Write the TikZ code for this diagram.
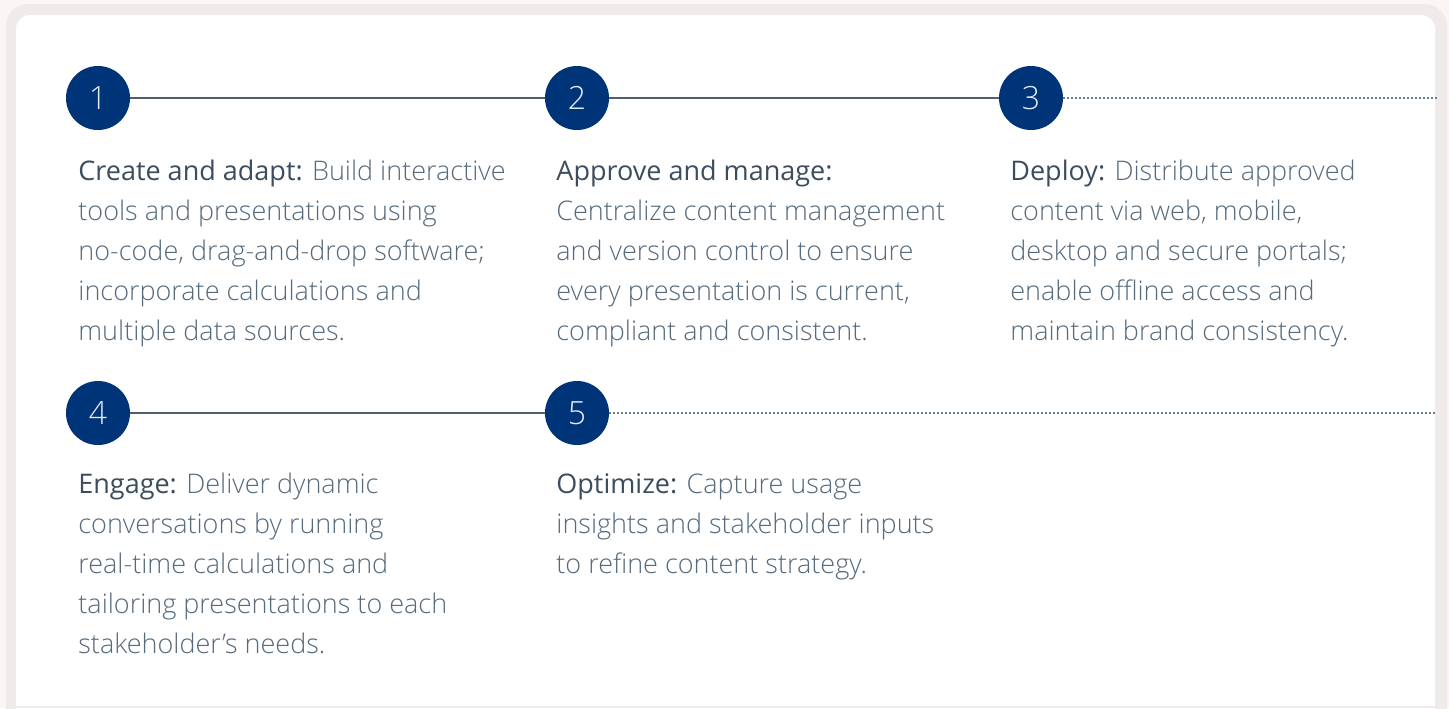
\documentclass[tikz,border=0pt]{standalone}
\usepackage{fontspec}
\newfontfamily\headfont{Open Sans}
\newfontfamily\bodyfont{Open Sans Light}
\definecolor{pagebg}{HTML}{F9F6F5}
\definecolor{bandgrey}{HTML}{EFEBEA}
\definecolor{navy}{HTML}{003478}
\definecolor{numtxt}{HTML}{E4EAF3}
\definecolor{linecol}{HTML}{4D6070}
\definecolor{dotcol}{HTML}{6A7D8E}
\definecolor{bodycol}{HTML}{566B7D}
\definecolor{headcol}{HTML}{3B4D5E}
\tikzset{
  numcircle/.style={circle, fill=navy, minimum size=64*0.5pt, inner sep=0pt,
    text=numtxt, font=\bodyfont\fontsize{16pt}{18pt}\selectfont},
  solidlink/.style={draw=linecol, line width=0.7pt},
  dotlink/.style={draw=dotcol, line width=0.6pt, dash pattern=on 0.6pt off 1.4pt},
  stepdesc/.style={anchor=base west, inner sep=0pt, align=left, text=bodycol,
    font=\bodyfont\fontsize{13.5pt}{20pt}\selectfont},
}
\newcommand{\hd}[1]{{\headfont\color{headcol}#1}}
\begin{document}
\begin{tikzpicture}[x=0.5pt, y=-0.5pt]
\useasboundingbox (0,0) rectangle (1449,708);
\fill[pagebg] (0,0) rectangle (1449,708);
\fill[bandgrey, rounded corners=22*0.5pt] (6,4) rectangle (1447,760);
\fill[white, rounded corners=14*0.5pt] (16,15) rectangle (1435,740);
\fill[bandgrey] (6,706) rectangle (1447,708);

% circles
\node[numcircle] (c1) at (98,98) {1};
\node[numcircle] (c2) at (577,98) {2};
\node[numcircle] (c3) at (1031,98) {3};
\node[numcircle] (c4) at (98,413) {4};
\node[numcircle] (c5) at (577,413) {5};
\coordinate (e3) at (1437,98);
\coordinate (e5) at (1437,413);

% connectors
\draw[solidlink] (c1) -- (c2);
\draw[solidlink] (c2) -- (c3);
\draw[dotlink] (c3) -- (e3);
\draw[solidlink] (c4) -- (c5);
\draw[dotlink] (c5) -- (e5);

% texts (anchored at the baseline of their last line)
\node[stepdesc] (t1) at (78,340) {\hd{Create and adapt:} Build interactive\\tools and presentations using\\no-code, drag-and-drop software;\\incorporate calculations and\\multiple data sources.};
\node[stepdesc] (t2) at (556,340) {\hd{Approve and manage:}\\Centralize content management\\and version control to ensure\\every presentation is current,\\compliant and consistent.};
\node[stepdesc] (t3) at (1010,340) {\hd{Deploy:} Distribute approved\\content via web, mobile,\\desktop and secure portals;\\enable offline access and\\maintain brand consistency.};
\node[stepdesc] (t4) at (78,653) {\hd{Engage:} Deliver dynamic\\conversations by running\\real-time calculations and\\tailoring presentations to each\\stakeholder’s needs.};
\node[stepdesc] (t5) at (556,573) {\hd{Optimize:} Capture usage\\insights and stakeholder inputs\\to refine content strategy.};
\end{tikzpicture}
\end{document}
